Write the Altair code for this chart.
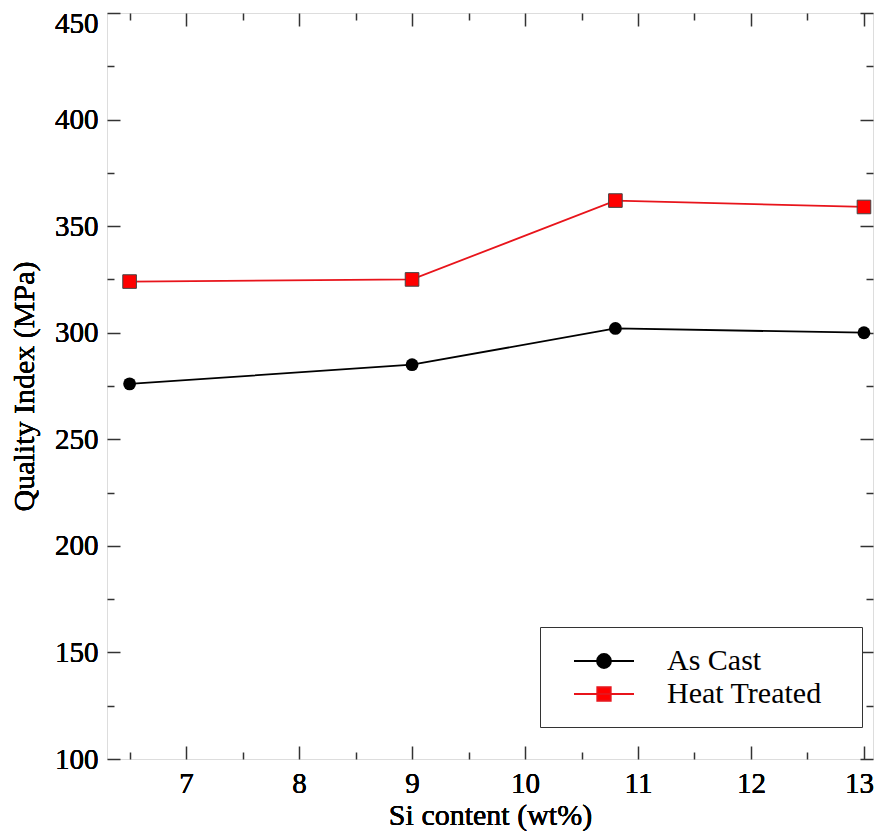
import altair as alt
import pandas as pd

# ---- data ----
si_content = [6.5, 9, 10.8, 13]
as_cast = [276, 285, 302, 300]
heat_treated = [324, 325, 362, 359]
series_names = ["As Cast", "Heat Treated"]
x_major = [7, 8, 9, 10, 11, 12, 13]
x_minor = [6.5, 7.5, 8.5, 9.5, 10.5, 11.5, 12.5]
y_major = [100, 150, 200, 250, 300, 350, 400, 450]
y_minor = [125, 175, 225, 275, 325, 375, 425]

df = pd.DataFrame({
    "si": si_content * 2,
    "qi": as_cast + heat_treated,
    "series": [series_names[0]] * len(si_content) + [series_names[1]] * len(si_content),
})
df_cast = df[df["series"] == series_names[0]]
df_heat = df[df["series"] == series_names[1]]

FONT = "Liberation Serif"
AX = "#333333"
xs = alt.Scale(domain=[6.3, 13.08], nice=False, zero=False)
ys = alt.Scale(domain=[100, 450], nice=False, zero=False)

x_label_axis = alt.Axis(orient="bottom", values=x_major, ticks=False, domain=False, grid=False,
                        labelFont=FONT, labelFontSize=29, labelColor="black", labelPadding=10,
                        labelFlush=False, labelOverlap=False,
                        labelOffset={"condition": {"test": "datum.value == 13", "value": -5}, "value": 0},
                        title="Si content (wt%)", titleFont=FONT, titleFontSize=30,
                        titleFontWeight="normal", titleColor="black", titlePadding=2)
y_label_axis = alt.Axis(orient="left", values=y_major, ticks=False, domain=False, grid=False,
                        labelFont=FONT, labelFontSize=29, labelColor="black", labelPadding=9,
                        labelFlush=False, labelOverlap=False,
                        labelOffset={"condition": {"test": "datum.value == 450", "value": 10}, "value": 0},
                        title="Quality Index (MPa)", titleFont=FONT, titleFontSize=30,
                        titleFontWeight="normal", titleColor="black", titlePadding=15)


def tick_axis(orient, values, length):
    return alt.Axis(orient=orient, values=values, ticks=True, tickSize=length, tickWidth=1.5,
                    tickColor=AX, labels=False, domain=False, grid=False, title=None,
                    offset=-length)


def X(axis):
    return alt.X("si:Q", scale=xs, axis=axis)


def Y(axis):
    return alt.Y("qi:Q", scale=ys, axis=axis)


# tick-only layers (inward ticks on all four sides)
tick_layers = []
for (xo, yo, xv, yv, ln) in [
    ("bottom", "left", x_major, y_major, 13),
    ("bottom", "left", x_minor, y_minor, 7),
    ("top", "right", x_major, y_major, 13),
    ("top", "right", x_minor, y_minor, 7),
]:
    tick_layers.append(
        alt.Chart(df).mark_point(opacity=0).encode(
            x=X(tick_axis(xo, xv, ln)), y=Y(tick_axis(yo, yv, ln))
        )
    )

cast_line = alt.Chart(df_cast).mark_line(color="black", strokeWidth=1.8).encode(
    x=X(x_label_axis), y=Y(y_label_axis))
cast_pts = alt.Chart(df_cast).mark_point(shape="circle", filled=True, fill="black", color="black",
                                          size=165, opacity=1).encode(
    x=X(x_label_axis), y=Y(y_label_axis))
heat_line = alt.Chart(df_heat).mark_line(color="#e8141b", strokeWidth=1.8).encode(
    x=X(x_label_axis), y=Y(y_label_axis))
heat_pts = alt.Chart(df_heat).mark_point(shape="square", filled=True, fill="#ff0000", stroke="#444444",
                                          strokeWidth=1, size=185, opacity=1).encode(
    x=X(x_label_axis), y=Y(y_label_axis))

# legend (built from scales; no data marks drawn)
circle_path = "M-2,0H2M0.467,0A0.467,0.467,0,1,1,-0.467,0A0.467,0.467,0,1,1,0.467,0Z"
square_path = "M-2,0H2M-0.45,-0.45H0.45V0.45H-0.45Z"
legend_cfg = alt.Legend(orient="none", legendX=433, legendY=614, title=None, direction="vertical",
                        fillColor="white", strokeColor=AX, padding=18,
                        labelFont=FONT, labelFontSize=30, labelColor="black", labelLimit=400,
                        labelExpr="datum.label + '\u2800'",
                        symbolSize=900, symbolStrokeWidth=1.8, symbolOpacity=1,
                        symbolOffset=30, labelOffset=47, rowPadding=2)
legend_df = pd.DataFrame({"series": series_names})
legend_layer = alt.Chart(legend_df).mark_point(filled=True, opacity=1).encode(
    shape=alt.Shape("series:N", scale=alt.Scale(domain=series_names, range=[circle_path, square_path]),
                    legend=legend_cfg),
    fill=alt.Fill("series:N", scale=alt.Scale(domain=series_names, range=["black", "#ff0000"]),
                  legend=legend_cfg),
    stroke=alt.Stroke("series:N", scale=alt.Scale(domain=series_names, range=["black", "#e8141b"]),
                      legend=legend_cfg),
).transform_filter("false")

chart = alt.layer(
    *tick_layers, heat_line, cast_line, heat_pts, cast_pts, legend_layer
).resolve_axis(x="independent", y="independent").properties(
    width=766, height=746,
    autosize=alt.AutoSizeParams(type="none"),
    padding={"left": 99, "top": 5, "right": 1, "bottom": 72},
).configure_view(stroke=AX, strokeWidth=1.5).configure(background="white")

chart.save("out.html", embed_options={"renderer": "svg", "actions": False})
